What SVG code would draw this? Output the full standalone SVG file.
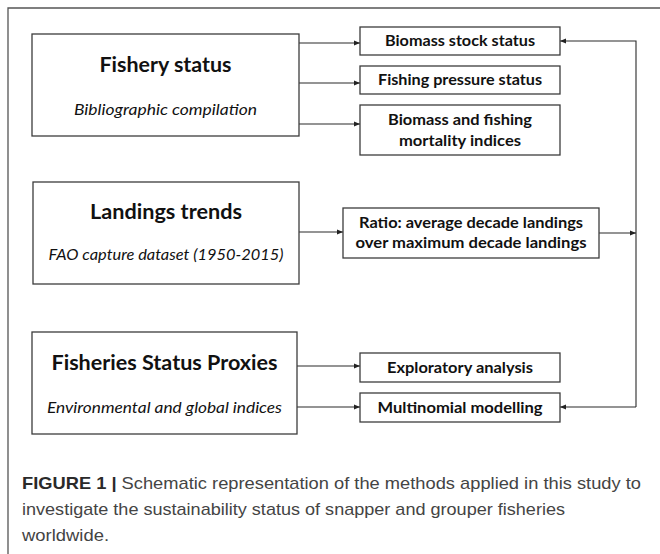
<svg xmlns="http://www.w3.org/2000/svg" width="660" height="554" viewBox="0 0 660 554">
<defs>
<marker id="arr" markerUnits="userSpaceOnUse" markerWidth="6" markerHeight="6" refX="6" refY="3" orient="auto">
<path d="M0,0.5 L6,3 L0,5.5 z" fill="#222"/>
</marker>
<style>
.box{fill:#fff;stroke:#3c3c3c;stroke-width:1.3}
.con{fill:none;stroke:#2a2a2a;stroke-width:1.1}
.ttl{font-family:Lato,"Open Sans",sans-serif;font-weight:bold;font-size:21px;fill:#111;text-anchor:middle}
.sub{font-family:Lato,"Open Sans",sans-serif;font-style:italic;font-size:15.5px;fill:#111;text-anchor:middle}
.lbl{font-family:Lato,"Open Sans",sans-serif;font-weight:bold;font-size:15px;fill:#111;text-anchor:middle}
.cap{font-family:"Liberation Sans",Arial,sans-serif;font-size:17px;fill:#444}
.capb{font-weight:bold;fill:#2a2a2a}
</style>
</defs>
<rect width="660" height="554" fill="#fff"/>
<path d="M8,554 L8,8 L660,8" fill="none" stroke="#555" stroke-width="1.3"/>

<g id="connectors">
<line class="con" x1="299" y1="43" x2="360" y2="43" marker-end="url(#arr)"/>
<line class="con" x1="299" y1="83" x2="360" y2="83" marker-end="url(#arr)"/>
<line class="con" x1="299" y1="124" x2="360" y2="124" marker-end="url(#arr)"/>
<line class="con" x1="299" y1="232" x2="343" y2="232" marker-end="url(#arr)"/>
<line class="con" x1="599" y1="233" x2="636" y2="233" marker-end="url(#arr)"/>
<polyline class="con" points="636,407 636,41 560,41" marker-end="url(#arr)"/>
<line class="con" x1="636" y1="407" x2="560" y2="407" marker-end="url(#arr)"/>
<line class="con" x1="297" y1="366" x2="360" y2="366" marker-end="url(#arr)"/>
<line class="con" x1="297" y1="407" x2="360" y2="407" marker-end="url(#arr)"/>
</g>

<g id="fishery-status">
<rect class="box" x="32" y="34" width="267" height="102"/>
<text class="ttl" x="165.5" y="72" textLength="132" lengthAdjust="spacingAndGlyphs">Fishery status</text>
<text class="sub" x="165.5" y="115" textLength="183" lengthAdjust="spacingAndGlyphs">Bibliographic compilation</text>
</g>

<g id="biomass-stock-status">
<rect class="box" x="360" y="27" width="200" height="28"/>
<text class="lbl" x="460" y="46" textLength="150" lengthAdjust="spacingAndGlyphs">Biomass stock status</text>
</g>

<g id="fishing-pressure-status">
<rect class="box" x="360" y="66" width="200" height="28"/>
<text class="lbl" x="460" y="85" textLength="164" lengthAdjust="spacingAndGlyphs">Fishing pressure status</text>
</g>

<g id="biomass-fishing-mortality">
<rect class="box" x="360" y="105" width="200" height="50"/>
<text class="lbl" x="460" y="125" textLength="144" lengthAdjust="spacingAndGlyphs">Biomass and fishing</text>
<text class="lbl" x="460" y="146" textLength="122" lengthAdjust="spacingAndGlyphs">mortality indices</text>
</g>

<g id="landings-trends">
<rect class="box" x="33" y="182" width="266" height="102"/>
<text class="ttl" x="166" y="219" textLength="152" lengthAdjust="spacingAndGlyphs">Landings trends</text>
<text class="sub" x="166" y="260" textLength="235" lengthAdjust="spacingAndGlyphs">FAO capture dataset (1950-2015)</text>
</g>

<g id="ratio">
<rect class="box" x="343" y="208" width="256" height="50"/>
<text class="lbl" x="471" y="228" textLength="224" lengthAdjust="spacingAndGlyphs">Ratio: average decade landings</text>
<text class="lbl" x="471" y="248" textLength="231" lengthAdjust="spacingAndGlyphs">over maximum decade landings</text>
</g>

<g id="fisheries-status-proxies">
<rect class="box" x="32" y="332" width="265" height="102"/>
<text class="ttl" x="164.5" y="370" textLength="226" lengthAdjust="spacingAndGlyphs">Fisheries Status Proxies</text>
<text class="sub" x="164.5" y="413" textLength="235" lengthAdjust="spacingAndGlyphs">Environmental and global indices</text>
</g>

<g id="exploratory-analysis">
<rect class="box" x="360" y="353" width="200" height="29"/>
<text class="lbl" x="460" y="373" textLength="146" lengthAdjust="spacingAndGlyphs">Exploratory analysis</text>
</g>

<g id="multinomial-modelling">
<rect class="box" x="360" y="393" width="200" height="29"/>
<text class="lbl" x="460" y="413" textLength="165" lengthAdjust="spacingAndGlyphs">Multinomial modelling</text>
</g>

<g id="caption">
<text class="cap" x="22" y="489" textLength="619" lengthAdjust="spacingAndGlyphs"><tspan class="capb">FIGURE 1 |</tspan> Schematic representation of the methods applied in this study to</text>
<text class="cap" x="22" y="515" textLength="543" lengthAdjust="spacingAndGlyphs">investigate the sustainability status of snapper and grouper fisheries</text>
<text class="cap" x="22" y="541" textLength="87" lengthAdjust="spacingAndGlyphs">worldwide.</text>
</g>
</svg>
